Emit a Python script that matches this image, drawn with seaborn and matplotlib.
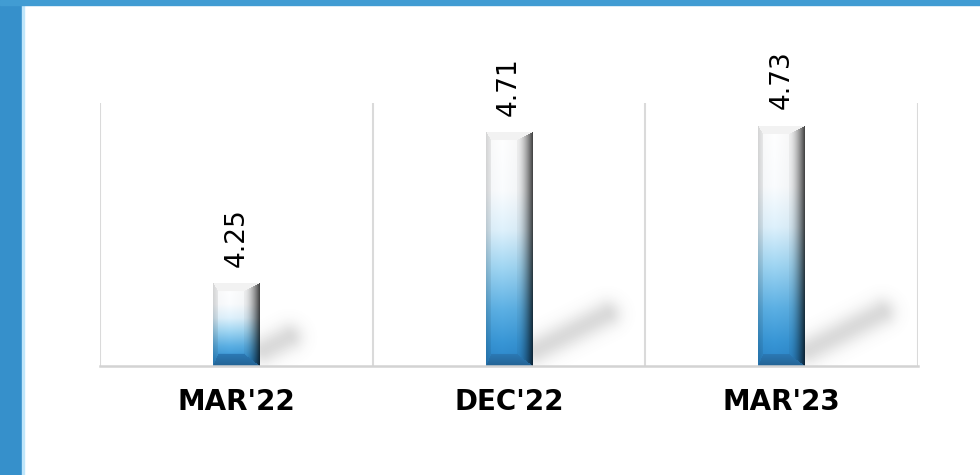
import numpy as np
import pandas as pd
import matplotlib
matplotlib.use("Agg")
import matplotlib.pyplot as plt
import seaborn as sns
from matplotlib.patches import Rectangle

periods = ["MAR'22", "DEC'22", "MAR'23"]
values = [4.25, 4.71, 4.73]

df = pd.DataFrame({"period": periods, "value": values})

sns.set_style("white")
plt.rcParams['font.family'] = ['DejaVu Sans']

W, H = 980, 475
fig = plt.figure(figsize=(W / 100, H / 100), dpi=100)

# page frame (blue strips on left and top)
fig.patches.append(Rectangle((0, 0), 22 / W, 1, transform=fig.transFigure,
                             color='#3690cb', zorder=0))
fig.patches.append(Rectangle((22 / W, 0), 2 / W, 1 - 5 / H, transform=fig.transFigure,
                             color='#bfe6fb', zorder=0))
fig.patches.append(Rectangle((0, 1 - 5 / H), 1, 5 / H, transform=fig.transFigure,
                             color='#419cd3', zorder=0))

ax = fig.add_axes([100 / W, 1 - 366 / H, 818 / W, 263 / H])
ax.set_facecolor('white')

sns.barplot(data=df, x="period", y="value", ax=ax, width=0.172, color="#3a8fc9")

ymin, ymax = 4.0, 4.8
ax.set_ylim(ymin, ymax)
ax.set_xlim(-0.5, 2.5)

# pixel scale of the axes
px_x = 818 / 3.0
px_y = 263 / (ymax - ymin)


def bar_image(wpx, hpx):
    yy, xx = np.mgrid[0:hpx, 0:wpx].astype(float)
    v = yy / max(hpx - 1, 1)
    stops = np.array([0.0, 0.25, 0.42, 0.58, 0.76, 0.9, 1.0])
    cols = np.array([[255, 255, 255], [250, 252, 254], [222, 241, 252], [160, 214, 243],
                     [92, 176, 228], [56, 150, 214], [42, 132, 200]]) / 255.0
    img = np.zeros((hpx, wpx, 3))
    for c in range(3):
        img[..., c] = np.interp(v, stops, cols[:, c])
    lb, rb, tb, bb = 5, 16, 8, 12
    u = xx / (wpx - 1)
    # main face: slight fall-off away from the bright stripe
    shade = 1 - 0.08 * np.abs(u - 0.35)
    # left bevel
    shade = np.where(xx < lb, 0.84 + 0.08 * xx / lb, shade)
    # right bevel: smooth darkening towards the edge
    r = np.clip((xx - (wpx - rb)) / rb, 0, 1)
    shade = np.where(xx >= wpx - rb, 0.93 - 0.72 * r ** 1.6, shade)
    img *= shade[..., None]
    # top bevel face
    top = (yy < tb) & (xx > yy * lb / tb) & (xx < wpx - 1 - yy * rb / tb)
    img[top] = np.array([0.95, 0.95, 0.95])
    # bottom bevel face
    db = hpx - 1 - yy
    bot = (db < bb) & (xx > db * lb / bb) & (xx < wpx - 1 - db * rb / bb)
    bc = np.array([44, 122, 182]) / 255.0
    img[bot] = bc * (0.82 + 0.18 * (db[bot] / bb))[:, None]
    return np.clip(img, 0, 1)


for i, p in enumerate(ax.patches):
    x0, w, h = p.get_x(), p.get_width(), p.get_height()
    wpx = int(round(w * px_x))
    hpx = int(round((h - ymin) * px_y))
    p.set_facecolor('none')
    p.set_edgecolor('none')
    ax.imshow(bar_image(wpx, hpx), extent=[x0, x0 + w, ymin, h],
              origin='upper', aspect='auto', zorder=3, interpolation='bilinear')

    # soft shadow behind the bar
    L = 0.34 * hpx
    ang = np.deg2rad(27)
    sx0, sy0 = (x0 + w) * px_x + 4, 16
    sx1, sy1 = sx0 + L * np.cos(ang), sy0 + L * np.sin(ang)
    gx = np.linspace(x0 + w, x0 + w + (L + 50) / px_x, 200)
    gy = np.linspace(ymin, ymin + (L * np.sin(ang) + 50) / px_y, 140)
    GX, GY = np.meshgrid(gx * px_x, (gy - ymin) * px_y)
    dx, dy = sx1 - sx0, sy1 - sy0
    t = np.clip(((GX - sx0) * dx + (GY - sy0) * dy) / (dx * dx + dy * dy), 0, 1)
    d = np.hypot(GX - (sx0 + t * dx), GY - (sy0 + t * dy))
    alpha = 0.26 * np.exp(-(d / 14.0) ** 2)
    sh = np.zeros(alpha.shape + (4,))
    sh[..., :3] = 0.45
    sh[..., 3] = alpha
    ax.imshow(sh, extent=[gx[0], gx[-1], gy[0], gy[-1]], origin='lower',
              aspect='auto', zorder=2, interpolation='bilinear')

    ax.text(i, h + 17 / px_y, f"{values[i]:.2f}", rotation=90, ha='center',
            va='bottom', fontsize=19, color='black', zorder=5)

ax.set_ylim(ymin, ymax)
ax.set_xlim(-0.5, 2.5)

for xv in [-0.5, 0.5, 1.5, 2.5]:
    ax.axvline(xv, color='#dadada', lw=1.5, zorder=1)

for s in ['left', 'right', 'top']:
    ax.spines[s].set_visible(False)
ax.spines['bottom'].set_color('#d3d3d3')
ax.spines['bottom'].set_linewidth(1.8)
ax.spines['bottom'].set_zorder(4)

ax.set_yticks([])
ax.set_xlabel('')
ax.set_ylabel('')
ax.tick_params(axis='x', length=0, pad=16, labelsize=20, labelcolor='black')
for lab in ax.get_xticklabels():
    lab.set_fontweight('bold')

fig.savefig('out.png', dpi=100, facecolor='white')
